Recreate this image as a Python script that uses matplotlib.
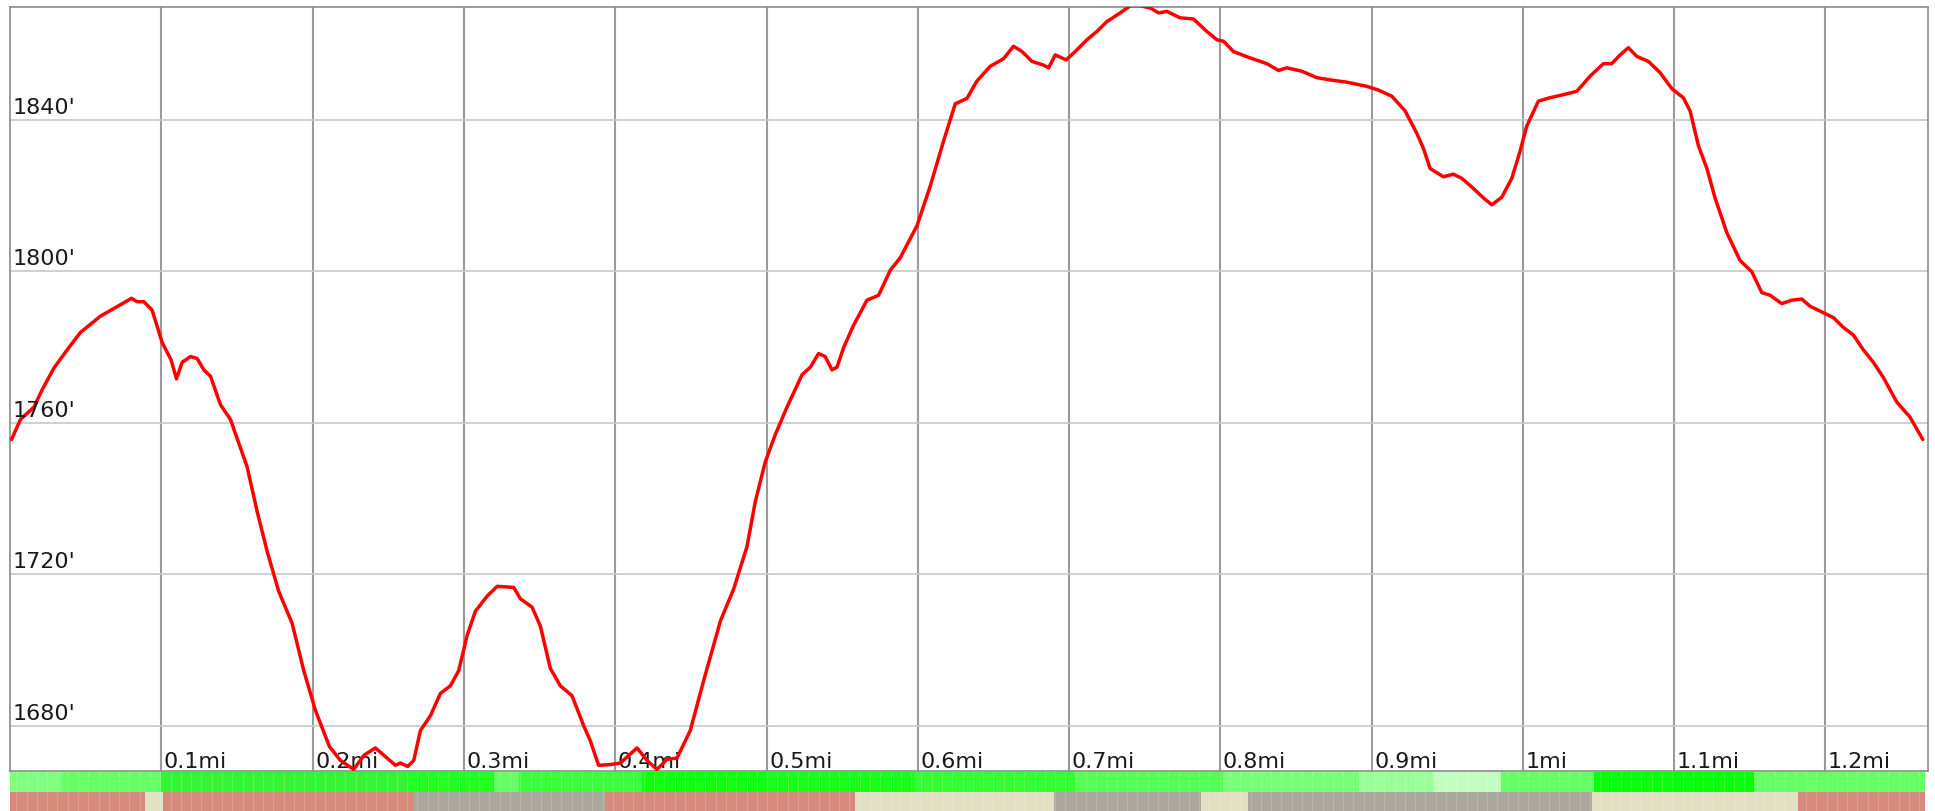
import numpy as np
import matplotlib
matplotlib.use('Agg')
import matplotlib.pyplot as plt
import matplotlib.transforms as mtransforms


# elevation profile (distance in miles, elevation in feet)
dist_mi = [0.0009, 0.0068, 0.0156, 0.0211, 0.0288, 0.0377, 0.0465, 0.0597, 0.0707, 0.0802,
           0.0839, 0.0883, 0.0938, 0.1005, 0.1064, 0.1099, 0.1137, 0.1192, 0.1236, 0.1280,
           0.1324, 0.1390, 0.1456, 0.1566, 0.1633, 0.1699, 0.1775, 0.1864, 0.1941, 0.2018,
           0.2110, 0.2183, 0.2271, 0.2337, 0.2414, 0.2481, 0.2547, 0.2580, 0.2628, 0.2668,
           0.2712, 0.2778, 0.2844, 0.2910, 0.2965, 0.3020, 0.3075, 0.3153, 0.3219, 0.3329,
           0.3373, 0.3450, 0.3505, 0.3571, 0.3637, 0.3714, 0.3791, 0.3835, 0.3890, 0.3968,
           0.4034, 0.4089, 0.4144, 0.4210, 0.4276, 0.4342, 0.4408, 0.4496, 0.4584, 0.4695,
           0.4783, 0.4871, 0.4926, 0.4992, 0.5058, 0.5135, 0.5235, 0.5290, 0.5344, 0.5388,
           0.5433, 0.5466, 0.5510, 0.5576, 0.5664, 0.5741, 0.5818, 0.5884, 0.5995, 0.6083,
           0.6171, 0.6248, 0.6325, 0.6391, 0.6479, 0.6567, 0.6633, 0.6689, 0.6755, 0.6832,
           0.6865, 0.6909, 0.6981, 0.7041, 0.7118, 0.7184, 0.7250, 0.7338, 0.7405, 0.7471,
           0.7537, 0.7592, 0.7647, 0.7735, 0.7823, 0.7911, 0.7978, 0.8022, 0.8087, 0.8198,
           0.8308, 0.8385, 0.8440, 0.8539, 0.8638, 0.8726, 0.8837, 0.8969, 0.9046, 0.9134,
           0.9222, 0.9299, 0.9343, 0.9387, 0.9475, 0.9541, 0.9596, 0.9663, 0.9740, 0.9795,
           0.9861, 0.9927, 0.9982, 1.0026, 1.0103, 1.0180, 1.0268, 1.0357, 1.0445, 1.0533,
           1.0588, 1.0643, 1.0698, 1.0754, 1.0830, 1.0908, 1.0985, 1.1061, 1.1106, 1.1161,
           1.1217, 1.1271, 1.1349, 1.1436, 1.1514, 1.1580, 1.1635, 1.1712, 1.1778, 1.1844,
           1.1899, 1.1987, 1.2053, 1.2119, 1.2185, 1.2251, 1.2317, 1.2383, 1.2472, 1.2560,
           1.2644]
elev_ft = [1755.6, 1760.9, 1764.1, 1768.7, 1774.4, 1779.3, 1783.9, 1788.2, 1790.7, 1792.9,
           1792.0, 1792.0, 1789.8, 1781.2, 1776.6, 1771.6, 1776.0, 1777.5, 1777.0, 1774.0,
           1772.3, 1764.8, 1760.9, 1748.4, 1736.5, 1726.0, 1715.5, 1707.0, 1694.5, 1684.0,
           1674.5, 1670.8, 1668.4, 1672.1, 1674.1, 1671.8, 1669.5, 1670.1, 1669.2, 1670.8,
           1678.7, 1682.6, 1688.5, 1690.5, 1694.5, 1703.7, 1710.2, 1714.2, 1716.8, 1716.5,
           1713.5, 1711.3, 1706.3, 1695.1, 1690.5, 1687.9, 1680.0, 1676.0, 1669.5, 1669.7,
           1670.1, 1672.1, 1674.1, 1670.8, 1668.4, 1671.1, 1671.4, 1678.7, 1691.8, 1707.6,
           1716.1, 1727.3, 1739.2, 1749.7, 1756.9, 1764.1, 1772.7, 1774.7, 1778.3, 1777.5,
           1774.0, 1774.7, 1779.9, 1785.8, 1792.4, 1793.7, 1800.3, 1803.6, 1812.1, 1822.6,
           1834.5, 1844.3, 1845.7, 1850.3, 1854.2, 1856.2, 1859.5, 1858.1, 1855.5, 1854.5,
           1853.8, 1857.2, 1855.9, 1858.1, 1861.2, 1863.4, 1866.0, 1868.3, 1870.2, 1870.2,
           1869.6, 1868.3, 1868.7, 1867.0, 1866.7, 1863.4, 1861.2, 1860.8, 1858.1, 1856.4,
           1854.9, 1853.1, 1853.8, 1852.9, 1851.2, 1850.6, 1850.0, 1848.9, 1847.9, 1846.3,
           1842.4, 1836.5, 1832.5, 1827.2, 1825.0, 1825.7, 1824.6, 1822.3, 1819.4, 1817.6,
           1819.6, 1824.6, 1831.8, 1838.4, 1845.0, 1845.9, 1846.7, 1847.6, 1851.6, 1854.9,
           1854.9, 1857.2, 1859.1, 1856.8, 1855.5, 1852.5, 1848.3, 1845.9, 1842.4, 1833.2,
           1827.2, 1819.4, 1810.2, 1802.9, 1799.9, 1794.4, 1793.7, 1791.5, 1792.4, 1792.7,
           1790.8, 1789.1, 1787.8, 1785.2, 1783.2, 1779.3, 1776.0, 1772.0, 1765.5, 1761.5,
           1755.6]

x_ticks = [0.1, 0.2, 0.3, 0.4, 0.5, 0.6, 0.7, 0.8, 0.9, 1.0, 1.1, 1.2]
x_labels = ['0.1mi', '0.2mi', '0.3mi', '0.4mi', '0.5mi', '0.6mi', '0.7mi', '0.8mi',
            '0.9mi', '1mi', '1.1mi', '1.2mi']
y_ticks = [1680, 1720, 1760, 1800, 1840]
y_labels = ["1680'", "1720'", "1760'", "1800'", "1840'"]

# colour strips under the chart (segment edges in miles)
green_edges = [0.0, 0.0341, 0.1, 0.2628, 0.3199, 0.3362, 0.4180, 0.4996, 0.5977, 0.7038,
               0.8018, 0.8917, 0.9406, 0.9856, 1.0469, 1.1530, 1.2659]
green_cols = ['#80ff80', '#66ff66', '#33f333', '#22ff22', '#66ff66', '#3cff3c', '#11ff11',
              '#1aff1a', '#33ff33', '#55ff55', '#77ff77', '#99ff99', '#c0ffc0', '#66ff66',
              '#0aff0a', '#66ff66']
surf_edges = [0.0, 0.0888, 0.1011, 0.2668, 0.3934, 0.5584, 0.6899, 0.7871, 0.8181, 1.0455,
              1.1816, 1.2659]
surf_cols = ['#d68a7c', '#e2dfc2', '#d68a7c', '#aba79c', '#d68a7c', '#e2dfc2', '#aba79c',
             '#e2dfc2', '#aba79c', '#e2dfc2', '#d68a7c']

W, H = 1935, 812
fig = plt.figure(figsize=(W / 100, H / 100), dpi=100)

x0, x1 = 10.2, 1928.2
ax = fig.add_axes([x0 / W, 1 - 772 / H, (x1 - x0) / W, (772 - 7.5) / H])
ax.set_xlim(0, 1.268)
ax.set_ylim(1668.0, 1870.0)

for v in x_ticks:
    ax.axvline(v, color='#9a9a9a', lw=1.5, zorder=1)
for v in y_ticks:
    ax.axhline(v, color='#c8c8c8', lw=1.2, zorder=1)

ax.plot(dist_mi, elev_ft, color='#ff0000', lw=2.5, zorder=3,
        solid_joinstyle='round', solid_capstyle='round')

ax.set_xticks([])
ax.set_yticks([])
for s in ax.spines.values():
    s.set_color('#8a8a8a')
    s.set_linewidth(1.2)

# labels inside the plot
ytr = mtransforms.blended_transform_factory(ax.transAxes, ax.transData)
for v, lab in zip(y_ticks, y_labels):
    ax.annotate(lab, xy=(0, v), xycoords=ytr, xytext=(1.9, 5), textcoords='offset points',
                fontsize=16, color='#1a1a1a', ha='left', va='baseline', zorder=4)
xtr = mtransforms.blended_transform_factory(ax.transData, ax.transAxes)
for v, lab in zip(x_ticks, x_labels):
    ax.annotate(lab, xy=(v, 0), xycoords=xtr, xytext=(1.8, 3), textcoords='offset points',
                fontsize=16, color='#1a1a1a', ha='left', va='baseline', zorder=2)

# strips
ax_g = fig.add_axes([x0 / W, 1 - 793 / H, (x1 - x0) / W, 20 / H])
ax_s = fig.add_axes([x0 / W, 0, (x1 - x0) / W, 19 / H])
for a, edges, cols in [(ax_g, green_edges, green_cols), (ax_s, surf_edges, surf_cols)]:
    left = np.array(edges[:-1])
    width = np.diff(edges)
    a.bar(left, 1, width=width, align='edge', color=cols, linewidth=0)
    seams = np.arange(0.004, edges[-1], 0.0068)
    a.vlines(seams, 0, 1, color='white', alpha=0.18, lw=0.8)
    a.set_xlim(0, 1.268)
    a.set_ylim(0, 1)
    a.axis('off')

fig.savefig('out.png', dpi=100)
